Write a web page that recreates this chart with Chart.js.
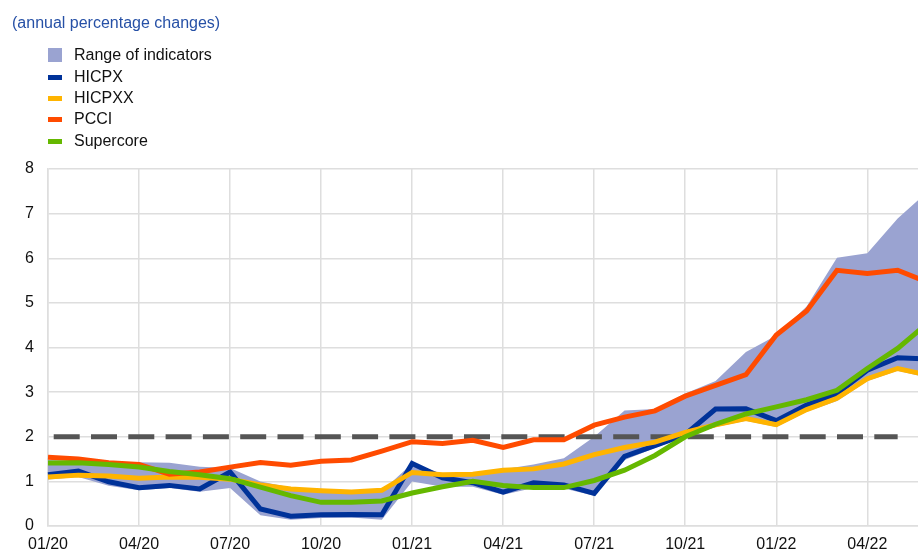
<!DOCTYPE html>
<html>
<head>
<meta charset="utf-8">
<script src="https://cdn.jsdelivr.net/npm/chart.js@4.4.1/dist/chart.umd.min.js"></script>
<style>
  html, body { margin: 0; padding: 0; background: #fff; }
  body { width: 918px; height: 552px; overflow: hidden; position: relative; font-family: "Liberation Sans", Arial, sans-serif; }
  #wrap { position: absolute; left: 0; top: 0; width: 940px; height: 552px; }
  .title { position: absolute; left: 12px; top: 13px; font-size: 16px; line-height: 20px; color: #2650a6; white-space: nowrap; }
  .item { position: absolute; left: 48px; height: 20px; line-height: 20px; font-size: 16px; color: #111; white-space: nowrap; }
  .item span { position: absolute; left: 26px; top: 0; }
  .sw { position: absolute; left: 0; width: 14px; }
</style>
</head>
<body>
<div id="wrap"><canvas id="chart" width="940" height="552"></canvas></div>
<div class="title">(annual percentage changes)</div>
<div id="legend"></div>

<script>
const months = [
  "01/20", "02/20", "03/20", "04/20", "05/20", "06/20", "07/20", "08/20", "09/20", "10/20", "11/20", "12/20",
  "01/21", "02/21", "03/21", "04/21", "05/21", "06/21", "07/21", "08/21", "09/21", "10/21", "11/21", "12/21",
  "01/22", "02/22", "03/22", "04/22", "05/22", "06/22"
];

const rangeHigh = [1.48, 1.45, 1.40, 1.43, 1.42, 1.33, 1.30, 1.00, 0.86, 0.78, 0.76, 0.78,
  1.40, 1.17, 1.20, 1.27, 1.38, 1.52, 2.00, 2.59, 2.62, 2.97, 3.25, 3.90,
  4.27, 4.92, 6.01, 6.11, 6.89, 7.50];
const rangeLow = [1.04, 1.10, 0.90, 0.80, 0.85, 0.77, 0.85, 0.24, 0.14, 0.18, 0.19, 0.14,
  1.00, 0.88, 0.88, 0.70, 0.85, 0.84, 0.68, 1.48, 1.75, 2.00, 2.22, 2.36,
  2.22, 2.56, 2.80, 3.25, 3.48, 3.32];
const hicpx = [1.15, 1.23, 0.99, 0.86, 0.91, 0.83, 1.21, 0.38, 0.22, 0.25, 0.26, 0.25,
  1.40, 1.08, 0.97, 0.76, 0.97, 0.92, 0.73, 1.56, 1.80, 2.05, 2.62, 2.63,
  2.36, 2.71, 2.97, 3.49, 3.77, 3.74];
const hicpxx = [1.10, 1.14, 1.12, 1.07, 1.10, 1.09, 1.05, 0.92, 0.83, 0.79, 0.76, 0.80,
  1.20, 1.15, 1.16, 1.25, 1.28, 1.39, 1.60, 1.76, 1.88, 2.10, 2.27, 2.41,
  2.27, 2.61, 2.86, 3.30, 3.53, 3.38];
const pcci = [1.54, 1.50, 1.42, 1.38, 1.16, 1.21, 1.32, 1.42, 1.36, 1.45, 1.48, 1.68,
  1.89, 1.85, 1.92, 1.76, 1.93, 1.93, 2.26, 2.44, 2.58, 2.91, 3.15, 3.39,
  4.28, 4.82, 5.73, 5.66, 5.73, 5.46];
const supercore = [1.41, 1.42, 1.38, 1.32, 1.22, 1.15, 1.06, 0.87, 0.68, 0.53, 0.53, 0.56,
  0.74, 0.88, 1.00, 0.91, 0.86, 0.86, 1.02, 1.25, 1.58, 2.00, 2.28, 2.51,
  2.67, 2.83, 3.04, 3.53, 3.98, 4.55];
const target = [2, 2, 2, 2, 2, 2, 2, 2, 2, 2, 2, 2,
  2, 2, 2, 2, 2, 2, 2, 2, 2, 2, 2, 2,
  2, 2, 2, 2, 2, null];

const colors = {
  range: "#9aa3d1",
  hicpx: "#003299",
  hicpxx: "#ffb400",
  pcci: "#ff4b00",
  supercore: "#65b800",
  target: "#555555",
  grid: "#dedede"
};

// html legend, same look as the original
const legendItems = [
  { label: "Range of indicators", color: colors.range, box: true },
  { label: "HICPX", color: colors.hicpx },
  { label: "HICPXX", color: colors.hicpxx },
  { label: "PCCI", color: colors.pcci },
  { label: "Supercore", color: colors.supercore }
];
const legendCenters = [55, 77, 98, 119, 141];
const legendEl = document.getElementById("legend");
legendItems.forEach((it, i) => {
  const row = document.createElement("div");
  row.className = "item";
  row.style.top = (legendCenters[i] - 10) + "px";
  const sw = document.createElement("div");
  sw.className = "sw";
  sw.style.background = it.color;
  sw.style.height = it.box ? "14px" : "5px";
  sw.style.top = it.box ? "3px" : "7.5px";
  const txt = document.createElement("span");
  txt.textContent = it.label;
  row.appendChild(sw);
  row.appendChild(txt);
  legendEl.appendChild(row);
});

Chart.defaults.font.family = '"Liberation Sans", Arial, sans-serif';
Chart.defaults.font.size = 16;
Chart.defaults.color = "#111";

const lineStyle = (label, data, color, order) => ({
  label: label,
  data: data,
  borderColor: color,
  backgroundColor: color,
  borderWidth: 5,
  pointRadius: 0,
  tension: 0,
  fill: false,
  order: order
});

new Chart(document.getElementById("chart"), {
  type: "line",
  data: {
    labels: months,
    datasets: [
      lineStyle("Supercore", supercore, colors.supercore, 0),
      lineStyle("PCCI", pcci, colors.pcci, 1),
      lineStyle("HICPXX", hicpxx, colors.hicpxx, 2),
      lineStyle("HICPX", hicpx, colors.hicpx, 3),
      {
        label: "target",
        data: target,
        borderColor: colors.target,
        borderWidth: 5,
        borderDash: [26, 11.3],
        borderDashOffset: 31.6,
        borderCapStyle: "butt",
        pointRadius: 0,
        fill: false,
        order: 4
      },
      {
        label: "Range of indicators",
        data: rangeHigh,
        borderColor: "transparent",
        borderWidth: 0,
        backgroundColor: colors.range,
        pointRadius: 0,
        fill: { target: 6 },
        order: 5
      },
      {
        label: "range low",
        data: rangeLow,
        borderColor: "transparent",
        borderWidth: 0,
        backgroundColor: colors.range,
        pointRadius: 0,
        fill: false,
        order: 6
      }
    ]
  },
  options: {
    responsive: false,
    animation: false,
    layout: { padding: { top: 169, right: 12, left: 0, bottom: 0 } },
    plugins: {
      legend: { display: false },
      tooltip: { enabled: false }
    },
    scales: {
      x: {
        offset: false,
        afterFit: (scale) => { scale.height = 26; },
        // labels of the other months return null, so only quarter lines stay
        grid: { drawTicks: false, lineWidth: 1.5, color: colors.grid },
        border: { color: colors.grid, width: 1.5 },
        ticks: {
          autoSkip: false,
          maxRotation: 0,
          padding: 9,
          color: "#111",
          callback: function (value, index) {
            return index % 3 === 0 && index < 28 ? months[index] : null;
          }
        }
      },
      y: {
        min: 0,
        max: 8,
        afterFit: (scale) => { scale.width = 48; },
        grid: { drawTicks: false, lineWidth: 1.5, color: colors.grid },
        border: { color: colors.grid, width: 1.5 },
        ticks: { stepSize: 1, padding: 14, color: "#111" }
      }
    }
  }
});
</script>
</body>
</html>
